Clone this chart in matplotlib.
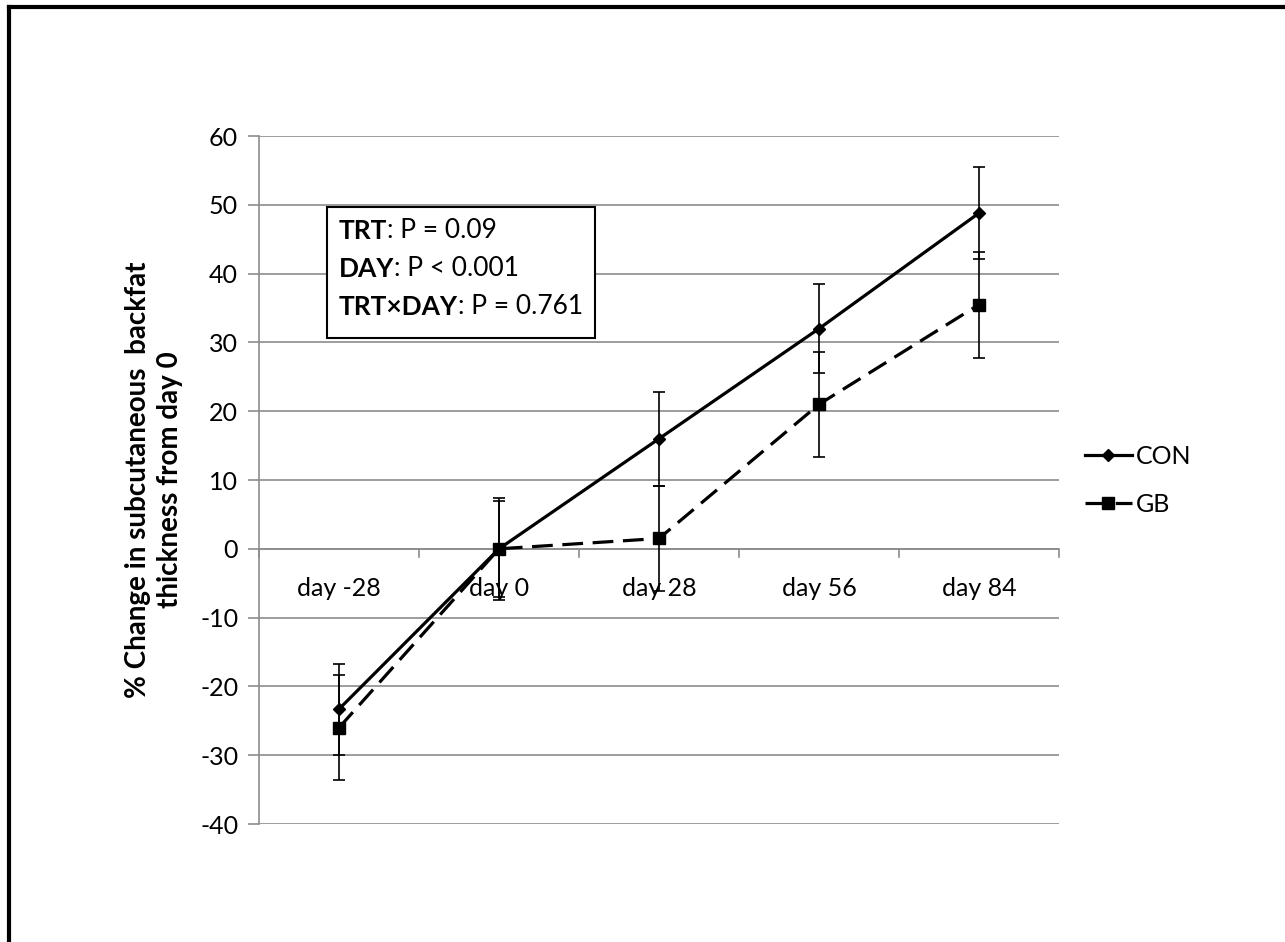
import matplotlib
matplotlib.use("Agg")
import matplotlib.pyplot as plt
from matplotlib.lines import Line2D

plt.rcParams['font.family'] = ['Lato', 'DejaVu Sans']
plt.rcParams['axes.unicode_minus'] = False

days = ["day -28", "day 0", "day 28", "day 56", "day 84"]
con = [-23.3, 0.0, 16.0, 32.0, 48.8]
con_err = [6.6, 7.4, 6.8, 6.5, 6.7]
gb = [-26.0, 0.0, 1.5, 21.0, 35.5]
gb_err = [7.6, 7.0, 7.6, 7.6, 7.7]
stats = [("TRT", ": P = 0.09"), ("DAY", ": P < 0.001"), ("TRT×DAY", ": P = 0.761")]

W, H = 1285, 942
FS = 18
fig = plt.figure(figsize=(W / 100, H / 100), dpi=100)
ax = fig.add_axes([259 / W, 1 - 824 / H, 800 / W, 688 / H])

x = range(len(days))
dash = (0, (6.5, 3))
ax.errorbar(x, con, yerr=con_err, color="black", lw=2.3, marker="D", ms=6,
            ecolor="black", elinewidth=1.2, capsize=4, capthick=1.2, zorder=3)
ax.errorbar(x, gb, yerr=gb_err, color="black", lw=2.3, ls=dash, marker="s", ms=9,
            ecolor="black", elinewidth=1.2, capsize=4, capthick=1.2, zorder=3)

ax.set_xlim(-0.5, 4.5)
ax.set_ylim(-40, 60)
ax.set_yticks(range(-40, 61, 10))
ax.grid(axis="y", color="#8c8c8c", lw=1.2)
ax.set_axisbelow(True)
for s in ["top", "right", "bottom"]:
    ax.spines[s].set_visible(False)
ax.spines["left"].set_color("#8c8c8c")
ax.spines["left"].set_linewidth(1.2)
ax.tick_params(axis="y", length=8, width=1.2, color="#8c8c8c", labelsize=FS, pad=7)

# category axis at y = 0
ax.axhline(0, color="#8c8c8c", lw=1.2, zorder=1)
ax.set_xticks([])
for b in [i - 0.5 for i in range(len(days) + 1)]:
    ax.plot([b, b], [0, -1.2], color="#8c8c8c", lw=1.2, clip_on=False, zorder=1)
for i, d in enumerate(days):
    ax.text(i, -5.7, d, ha="center", va="center", fontsize=FS)

ax.set_ylabel("% Change in subcutaneous  backfat\nthickness from day 0",
              fontsize=20, fontweight="bold", labelpad=12, linespacing=1.3)

# stats box
ax.add_patch(plt.Rectangle((327 / W, 1 - 338 / H), 268 / W, 131 / H, transform=fig.transFigure,
                           facecolor="white", ec="black", lw=1.5, zorder=4, clip_on=False))
for k, (b, rest) in enumerate(stats):
    t = ax.text(339 / W, 1 - (239 + 38 * k) / H, b, transform=fig.transFigure, fontsize=19,
                fontweight="bold", va="baseline", zorder=5)
    ax.annotate(rest, xy=(1, 0), xycoords=t, va="bottom", fontsize=19, zorder=5)

handles = [Line2D([], [], color="black", lw=2.3, marker="D", ms=6),
           Line2D([], [], color="black", lw=2.3, ls=dash, marker="s", ms=9)]
ax.legend(handles, ["CON", "GB"], loc="center left", bbox_to_anchor=(1.004, 0.5), frameon=False,
          fontsize=FS, handlelength=1.9, handletextpad=0.15, labelspacing=1.0)

# figure border (top and left)
fig.add_artist(Line2D([9 / W, 1], [1 - 7 / H, 1 - 7 / H], color="black", lw=3, transform=fig.transFigure))
fig.add_artist(Line2D([9 / W, 9 / W], [0, 1 - 7 / H], color="black", lw=3, transform=fig.transFigure))

fig.savefig("out.png", dpi=100)
